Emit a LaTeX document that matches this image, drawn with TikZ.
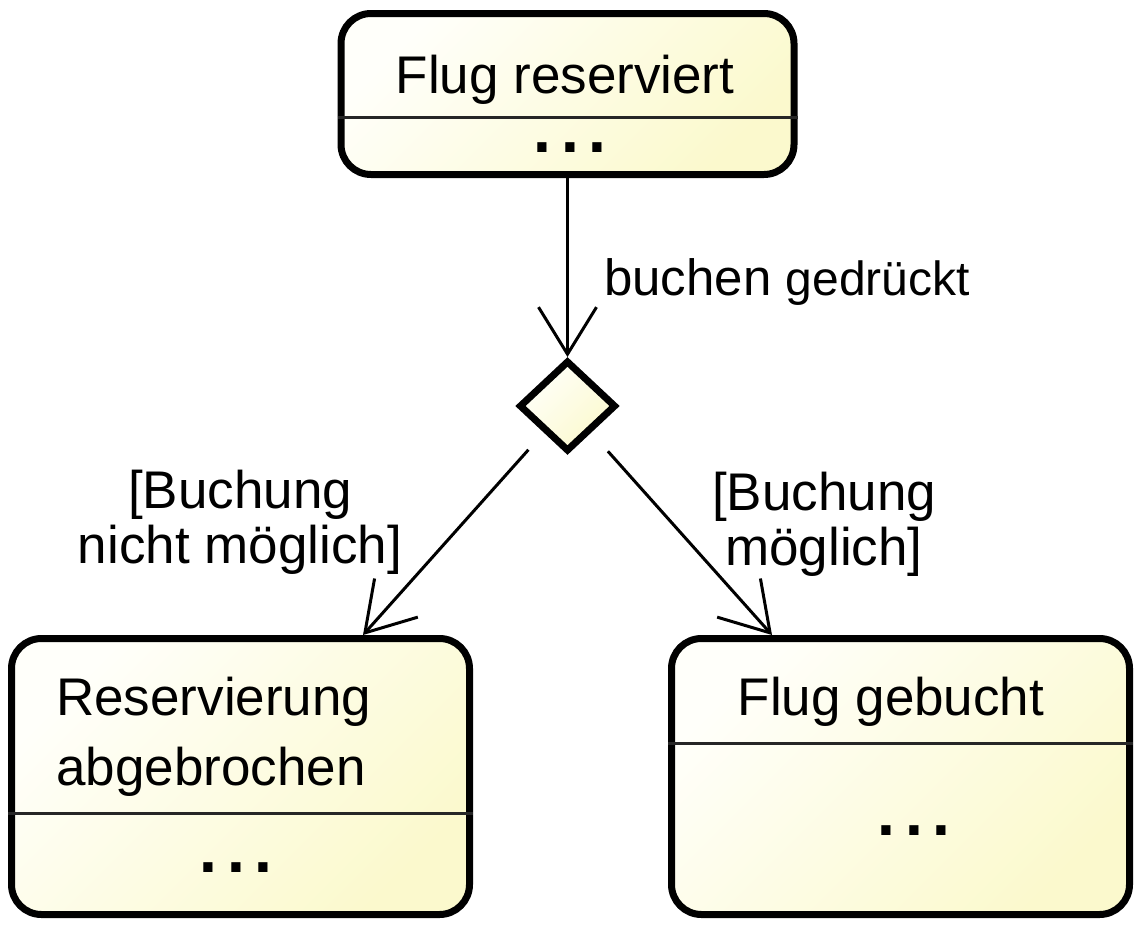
\documentclass[tikz,border=0pt]{standalone}
\usepackage{fontspec}
\setmainfont{Liberation Sans}
\newfontfamily\dotfont{DejaVu Sans}
\usetikzlibrary{arrows.meta,shapes.geometric}
\definecolor{fillA}{RGB}{255,255,250}
\definecolor{fillB}{RGB}{251,249,205}
\begin{document}
\begin{tikzpicture}[x=1pt,y=-1pt,
  statebox/.style={rectangle, draw=black, line width=7pt, rounded corners=30pt, inner sep=0pt,
    left color=fillA, right color=fillB, shading angle=45},
  decision/.style={diamond, draw=black, line width=7pt, inner sep=0pt, aspect=1,
    left color=fillA, right color=fillB, shading angle=45},
  divider/.style={line width=3pt, draw=black!85},
  arr/.style={line width=3pt, -{Straight Barb[length=47pt,width=58pt]}},
  title/.style={font=\fontsize{53pt}{70pt}\selectfont, inner sep=0pt},
  lbl/.style={font=\fontsize{53pt}{55pt}\selectfont, inner sep=0pt, align=center},
  dots/.style={font=\dotfont\fontsize{52pt}{52pt}\selectfont\bfseries, inner sep=0pt, text height=13pt, text depth=0pt}
]
\useasboundingbox (0,0) rectangle (1141,927);

% states
\node[statebox, minimum width=453pt, minimum height=161pt] (tl) at (567.5,94) {};
\node[statebox, minimum width=458pt, minimum height=276pt] (bl) at (240.5,776.5) {};
\node[statebox, minimum width=458pt, minimum height=276pt] (br) at (900.5,776.5) {};
\node[decision, minimum width=97pt, minimum height=91pt] (dia) at (567.5,406) {};

% compartments
\draw[divider] (tl.west |- 0,117) -- (tl.east |- 0,117);
\draw[divider] (bl.west |- 0,813) -- (bl.east |- 0,813);
\draw[divider] (br.west |- 0,743) -- (br.east |- 0,743);

% texts
\node[title, anchor=base] (t1) at (565,93) {Flug reserviert};
\node[dots, anchor=base] (d1) at (570,152.5) {.\kern8pt.\kern8pt.};
\node[title, anchor=base west, align=left] (t2) at (56,785) {Reservierung\\abgebrochen};
\node[dots, anchor=base] (d2) at (236,872) {.\kern8pt.\kern8pt.};
\node[title, anchor=base] (t3) at (891,715) {Flug gebucht};
\node[dots, anchor=base] (d3) at (914,835) {.\kern8pt.\kern8pt.};

% transitions
\coordinate (lt) at (363,635);
\coordinate (rt) at (772,635);
\draw[arr] (tl.south) -- (dia.north);
\draw[arr, shorten <=23pt] (dia) -- (lt);
\draw[arr, shorten <=25pt] (dia) -- (rt);

% labels
\node[inner sep=0pt, anchor=base west] (l1) at (604,295)
  {\fontsize{51pt}{55pt}\selectfont buchen \fontsize{48pt}{55pt}\selectfont gedrückt};
\node[lbl, anchor=base] (l2) at (240,563) {[Buchung\\nicht möglich]};
\node[lbl, anchor=base] (l3) at (824,565) {[Buchung\\möglich]};
\end{tikzpicture}
\end{document}
